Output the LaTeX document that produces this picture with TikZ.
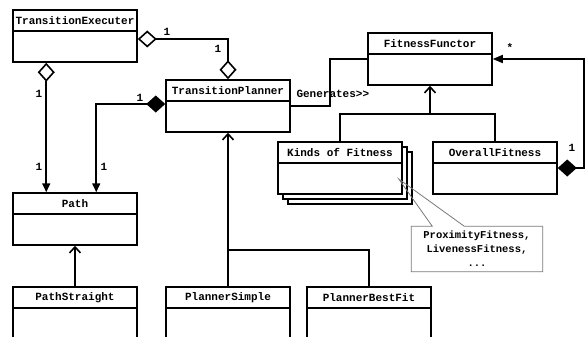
\documentclass[tikz,border=0pt]{standalone}
\usepackage{fontspec}
\setmonofont{Liberation Mono}
\usetikzlibrary{arrows.meta,shadows}
\definecolor{notegray}{HTML}{7A7A7A}
\tikzset{
  umlfont/.style={font=\ttfamily\bfseries\fontsize{11}{13}\selectfont},
  classbox/.style={draw,fill=white,minimum width=124pt,minimum height=52pt,inner sep=0pt},
  classhead/.style={draw,umlfont,minimum width=124pt,minimum height=21pt,inner sep=0pt},
  link/.style={line width=1.6pt},
  inherit/.style={link,-{Straight Barb[length=6pt,width=11pt]}},
  mult/.style={umlfont,inner sep=0pt},
  note/.style={fill=white,minimum width=130pt,minimum height=44pt,inner sep=0pt,align=center,
    font=\ttfamily\bfseries\fontsize{10.5}{14}\selectfont}
}
\newcommand{\umlclass}[4][]{%
  \node[classbox,#1] (#2) at (#3) {};
  \node[classhead,anchor=north] (#2-head) at (#2.north) {#4};
}

\begin{document}
\begin{tikzpicture}[x=1pt,y=-1pt,line width=1.5pt]
\path[use as bounding box,fill=white] (0,0) rectangle (586,337);
\clip (0,0) rectangle (586,337);

% classes
\umlclass{te}{75,36}{TransitionExecuter}
\umlclass{tp}{228,106}{TransitionPlanner}
\umlclass{path}{75,219}{Path}
\umlclass{pst}{75,313}{PathStraight}
\umlclass{ps}{228,313}{PlannerSimple}
\umlclass{pbf}{369,313}{PlannerBestFit}
\umlclass{ff}{430,59}{FitnessFunctor}
\umlclass[double copy shadow={shadow xshift=5pt,shadow yshift=-5pt,fill=white,draw=black}]{kinds}{340,168}{Kinds of Fitness}
\umlclass{of}{495,168}{OverallFitness}

% associations
\draw[link,{Diamond[open,length=19pt,width=17pt]}-{Diamond[open,length=19pt,width=17pt]}]
  ([yshift=-3pt]te.east) -| (tp.north);
\draw[link,{Diamond[open,length=19pt,width=17pt]}-{Triangle[length=9pt,width=8pt]}]
  ([xshift=34pt]te.south west) -- ([xshift=34pt]path.north west);
\draw[link,{Diamond[length=19pt,width=17pt]}-{Triangle[length=9pt,width=8pt]}]
  ([yshift=2pt]tp.west) -| ([xshift=84pt]path.north west);
\draw[link] (tp.east) -- ++(39,0) |- (ff.west);
\draw[link,{Diamond[length=19pt,width=17pt]}-{Triangle[length=10pt,width=8pt]}]
  (of.east) -- ++(26,0) |- (ff.east);

% generalisations
\coordinate (ffjoin) at ([yshift=-28pt]ff.south);
\draw[inherit] (kinds.north) |- (ffjoin) -- (ff.south);
\draw[link] (of.north) |- (ffjoin);
\coordinate (tpjoin) at ([yshift=-117pt]tp.south);
\draw[inherit] (ps.north) -- (tp.south);
\draw[link] (pbf.north) |- (tpjoin);
\draw[inherit] (pst.north) -- (path.south);

% labels
\node[mult,anchor=south west] (gen) at ([shift={(5pt,8pt)}]tp.east) {Generates>{}>};
\node[mult] (te-tp-a) at (167,32) {1};
\node[mult] (te-tp-b) at (218,49) {1};
\node[mult] (te-path-a) at (39,94) {1};
\node[mult] (te-path-b) at (39,167) {1};
\node[mult] (tp-path-a) at (140,98) {1};
\node[mult] (tp-path-b) at (104,167) {1};
\node[mult] (of-ff-a) at (510,48) {*};
\node[mult] (of-ff-b) at (572,148) {1};

% note
\coordinate (tailtip) at ([shift={(-4pt,-11pt)}]kinds.east);
\node[note] (note) at (477,249) {ProximityFitness,\\LivenessFitness,\\...};
\draw[notegray,line width=0.8pt] ([xshift=21pt]note.north west) -- (tailtip)
  -- ([xshift=53pt]note.north west) -- (note.north east) -- (note.south east)
  -- (note.south west) -- (note.north west) -- cycle;
\end{tikzpicture}
\end{document}
